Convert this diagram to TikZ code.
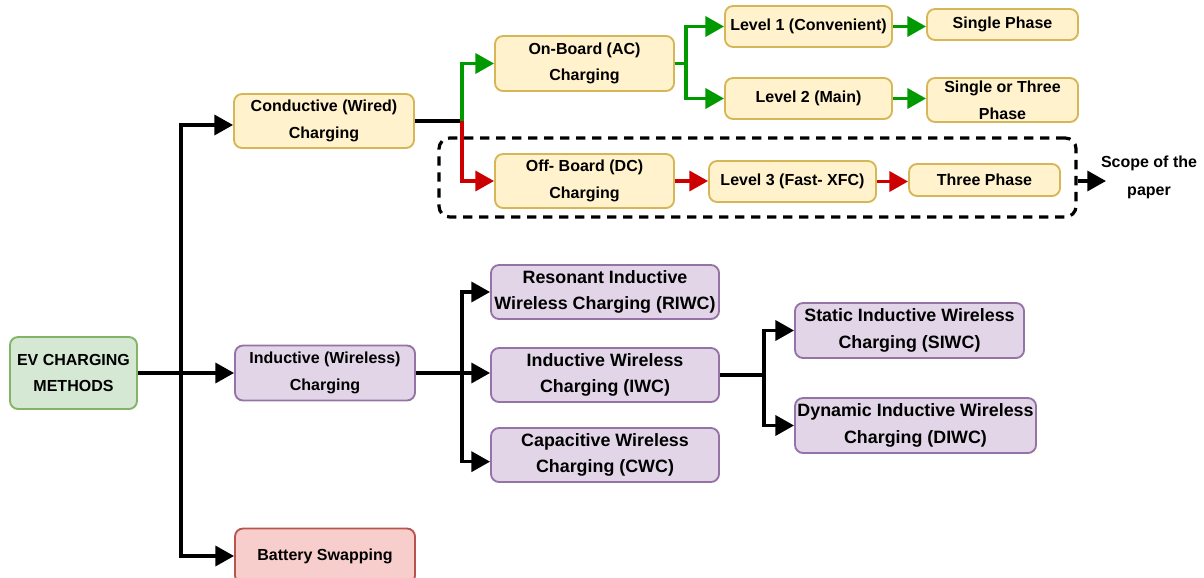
\documentclass[tikz,border=0pt]{standalone}
\usepackage{fontspec}
\setmainfont{Liberation Sans}
\usetikzlibrary{arrows.meta}
\definecolor{yfill}{HTML}{FFF2CC}
\definecolor{ydraw}{HTML}{D6B656}
\definecolor{pfill}{HTML}{E1D5E7}
\definecolor{pdraw}{HTML}{9673A6}
\definecolor{gfill}{HTML}{D5E8D4}
\definecolor{gdraw}{HTML}{82B366}
\definecolor{rfill}{HTML}{F8CECC}
\definecolor{rdraw}{HTML}{B85450}
\definecolor{gline}{HTML}{009900}
\definecolor{rline}{HTML}{CC0000}
\begin{document}
\begin{tikzpicture}[x=0.75pt,y=-0.75pt,
  box/.style={rounded corners=6pt, line width=1.4pt, align=center, inner sep=0pt,
    font=\bfseries\fontsize{12}{20}\selectfont},
  sz/.style 2 args={minimum width={#1*0.75pt}, minimum height={#2*0.75pt}},
  ybox/.style={box, fill=yfill, draw=ydraw},
  pbox/.style={box, fill=pfill, draw=pdraw},
  wbox/.style={pbox, font=\bfseries\fontsize{13.4}{20}\selectfont},
  gbox/.style={box, fill=gfill, draw=gdraw},
  rbox/.style={box, fill=rfill, draw=rdraw},
  wire/.style={line width=2.6pt},
  conn/.style={wire, -{Triangle[length=14pt,width=15pt]}},
  scopebox/.style={draw, dashed, dash pattern=on 7pt off 5pt, line width=2.4pt, rounded corners=8pt},
  lbl/.style={align=center, font=\bfseries\fontsize{12}{21}\selectfont},
]
\useasboundingbox (0,0) rectangle (1204,578);

% nodes
\node[gbox, sz={127}{72}] (ev) at (73.5,373) {EV CHARGING\\METHODS};
\node[ybox, sz={180}{54}] (cond) at (324,121) {Conductive (Wired)\\Charging};
\node[pbox, sz={180}{55}] (ind) at (325,373) {Inductive (Wireless)\\Charging};
\node[rbox, sz={180}{55}] (bat) at (325,556) {Battery Swapping};

\node[scopebox, sz={637}{79}] (scope) at (757.5,177.5) {};

\node[ybox, sz={179}{55}] (onb) at (584.5,63.5) {On-Board (AC)\\Charging};
\node[ybox, sz={179}{54}] (offb) at (584.5,181) {Off- Board (DC)\\Charging};
\node[ybox, sz={167}{41}] (l1) at (808.5,26.5) {Level 1 (Convenient)};
\node[ybox, sz={167}{41}] (l2) at (808.5,98.5) {Level 2 (Main)};
\node[ybox, sz={151}{31}] (sp) at (1002.5,24.5) {Single Phase};
\node[ybox, sz={151}{44}] (st) at (1002.5,100) {Single or Three\\Phase};
\node[ybox, sz={167}{41}] (l3) at (792.5,181.5) {Level 3 (Fast- XFC)};
\node[ybox, sz={151}{32}] (tp) at (984.5,180) {Three Phase};

\node[lbl] (scopetxt) at (1149,177) {Scope of the\\paper};

\node[wbox, sz={228}{54}] (riwc) at (605,292) {Resonant Inductive\\Wireless Charging (RIWC)};
\node[wbox, sz={228}{54}] (iwc) at (605,375) {Inductive Wireless\\Charging (IWC)};
\node[wbox, sz={228}{54}] (cwc) at (605,455) {Capacitive Wireless\\Charging (CWC)};
\node[wbox, sz={229}{55}] (siwc) at (909.5,330.5) {Static Inductive Wireless\\Charging (SIWC)};
\node[wbox, sz={241}{55}] (diwc) at (915.5,425.5) {Dynamic Inductive Wireless\\Charging (DIWC)};

% coordinates
\coordinate (t1) at (181,373);
\coordinate (s1) at (462,121);
\coordinate (s2) at (686,63.5);
\coordinate (s3) at (462,375);
\coordinate (s4) at (764,375);
\coordinate (se) at (1106,181);

% main trunk
\draw[wire] (ev.east) -- (t1);
\draw[conn] (t1) |- ([yshift=-3pt]cond.west);
\draw[conn] (ev.east) -- (ev.east -| ind.west);
\draw[conn] (t1) |- (bat.west);

% conductive
\draw[wire] (cond.east) -- (s1);
\draw[conn, gline] (s1) |- (onb.west);
\draw[conn, rline] (s1) |- (offb.west);
\draw[wire, gline] (onb.east) -- (s2);
\draw[conn, gline] (s2) |- (l1.west);
\draw[conn, gline] (s2) |- (l2.west);
\draw[conn, gline] (l1.east) -- (l1.east -| sp.west);
\draw[conn, gline] (l2.east) -- (l2.east -| st.west);
\draw[conn, rline] (offb.east) -- (offb.east -| l3.west);
\draw[conn, rline] (l3.east) -- (l3.east -| tp.west);
\draw[conn] (scope.east |- se) -- (se);

% inductive
\draw[wire] (ind.east) -- (ind.east -| s3);
\draw[conn] (ind.east -| s3) -- (ind.east -| iwc.west);
\draw[conn] (s3) |- (riwc.west);
\draw[conn] (s3) |- ([yshift=-5pt]cwc.west);
\draw[wire] (iwc.east) -- (s4);
\draw[conn] (s4) |- (siwc.west);
\draw[conn] (s4) |- (diwc.west);
\end{tikzpicture}
\end{document}
